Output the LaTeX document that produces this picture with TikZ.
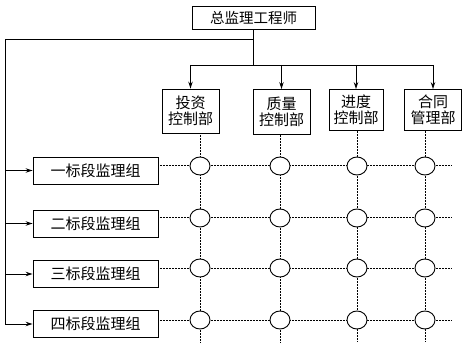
\documentclass[tikz,border=0pt]{standalone}
\usepackage{fontspec}
\setmainfont{Noto Sans CJK SC}
\usetikzlibrary{arrows.meta,shapes.geometric}
\begin{document}
\begin{tikzpicture}[x=1pt,y=-1pt,
  box/.style={draw,line width=0.9pt,inner sep=0pt,align=center,font=\fontsize{15}{16.5}\selectfont},
  arr/.style={line width=0.8pt,-{Stealth[length=7pt,width=4.5pt]}},
  ln/.style={line width=0.8pt},
  dl/.style={line width=1pt,dash pattern=on 0.8pt off 0.7pt},
  cir/.style={draw,line width=0.9pt,ellipse,minimum width=20pt,minimum height=18pt,inner sep=0pt,fill=white}]
\useasboundingbox (0,0) rectangle (469,350);
\node[box,minimum width=123pt,minimum height=23pt,font=\fontsize{14.5}{16}\selectfont] (top) at (253.5,17.5) {总监理工程师};
\node[box,minimum width=57pt,minimum height=44pt] (d1) at (190.5,111) {投资\\控制部};
\node[box,minimum width=57pt,minimum height=45pt] (d2) at (281.5,112) {质量\\控制部};
\node[box,minimum width=54pt,minimum height=41pt] (d3) at (356,110) {进度\\控制部};
\node[box,minimum width=57pt,minimum height=41pt] (d4) at (433,110) {合同\\管理部};
\node[box,minimum width=125pt,minimum height=27pt] (r1) at (95.5,170.5) {一标段监理组};
\node[box,minimum width=125pt,minimum height=27pt] (r2) at (95.5,223.5) {二标段监理组};
\node[box,minimum width=125pt,minimum height=27pt] (r3) at (95.5,274) {三标段监理组};
\node[box,minimum width=125pt,minimum height=27pt] (r4) at (95.5,324) {四标段监理组};
% tree connectors
\coordinate (b) at (253.5,65);
\coordinate (h) at (253.5,39);
\coordinate (L) at (5,39);
\draw[ln] (top.south) -- (b);
\draw[ln] (h) -- (L) -- (L |- r4.west);
\draw[arr] (L |- r4.west) -- (r4.west);
\draw[arr] (L |- r1.west) -- (r1.west);
\draw[arr] (L |- r2.west) -- (r2.west);
\draw[arr] (L |- r3.west) -- (r3.west);
\draw[ln] (b -| d1.north) -- (b -| d4.north);
\draw[arr] (b -| d1.north) -- (d1.north);
\draw[arr] (b -| d2.north) -- (d2.north);
\draw[arr] (b -| d3.north) -- (d3.north);
\draw[arr] (b -| d4.north) -- (d4.north);
% matrix grid
\foreach \cx/\d [count=\i] in {200/d1,280/d2,357/d3,425/d4}{
  \coordinate (col\i) at (\cx,342);
  \draw[dl] (col\i |- \d.south) -- (col\i);
}
\foreach \ry/\r [count=\j] in {166/r1,218/r2,268/r3,320/r4}{
  \coordinate (row\j) at (452,\ry);
  \draw[dl] (\r.east |- row\j) -- (row\j);
}
\foreach \i in {1,2,3,4}{
  \foreach \j in {1,2,3,4}{
    \node[cir] (c\i\j) at (col\i |- row\j) {};
  }
}
\end{tikzpicture}
\end{document}
